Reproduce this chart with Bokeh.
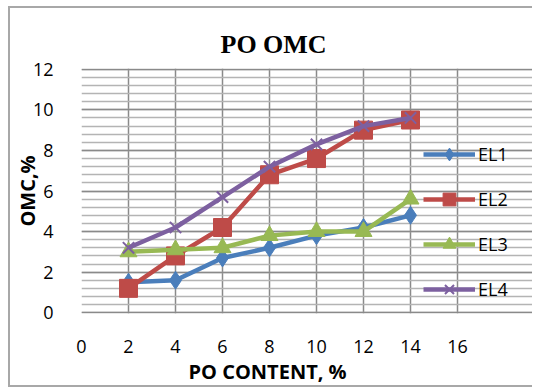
from bokeh.plotting import figure
from bokeh.models import Legend, LegendItem, FixedTicker, Title
from bokeh.embed import file_html
from bokeh.resources import INLINE

po_content = [2, 4, 6, 8, 10, 12, 14]
el1 = [1.5, 1.6, 2.7, 3.2, 3.8, 4.2, 4.8]
el2 = [1.2, 2.8, 4.2, 6.8, 7.6, 9.0, 9.5]
el3 = [3.0, 3.1, 3.2, 3.8, 4.0, 4.0, 5.6]
el4 = [3.2, 4.2, 5.7, 7.2, 8.3, 9.2, 9.6]

x_ticks = [0, 2, 4, 6, 8, 10, 12, 14, 16]
y_ticks = [0, 2, 4, 6, 8, 10, 12]

TICK_FONT = "Open Sans"
BORDER = "2px solid #a8a8a8"

# The frame runs to the right edge so the legend can sit over the grid;
# grid lines are bounded to the 0..16 x 0..12 chart area.
X_END = 16 * 453 / 376

p = figure(width=524, height=381, output_backend="svg", toolbar_location=None,
           x_range=(0, X_END), y_range=(-0.04, 12.04),
           min_border_left=71, min_border_right=0, min_border_top=60, min_border_bottom=76,
           margin=(6, 0, 0, 8),
           styles={"border-left": BORDER, "border-top": BORDER, "border-bottom": BORDER})

p.add_layout(Title(text="PO OMC", align="left", offset=139, standoff=19,
                   text_font="Liberation Serif", text_font_size="26px",
                   text_font_style="bold", text_color="black"), "above")
p.add_layout(Title(text="PO CONTENT, %", align="left", offset=107, standoff=0,
                   text_font=TICK_FONT, text_font_size="20px",
                   text_font_style="bold", text_color="black"), "below")

p.outline_line_color = None

for ax in (p.xaxis[0], p.yaxis[0]):
    ax.axis_line_color = None
    ax.major_tick_line_color = None
    ax.minor_tick_line_color = None
    ax.major_label_text_font = TICK_FONT
    ax.major_label_text_font_size = "18px"
    ax.major_label_text_color = "black"
    ax.axis_label_text_font = TICK_FONT
    ax.axis_label_text_font_style = "bold"
    ax.axis_label_text_font_size = "20px"
    ax.axis_label_text_color = "black"

p.xaxis.ticker = FixedTicker(ticks=x_ticks)
p.yaxis.ticker = FixedTicker(ticks=y_ticks, minor_ticks=[i * 0.4 for i in range(31)])
p.xaxis.major_label_standoff = 20
p.yaxis.major_label_standoff = 22
p.yaxis.axis_label = "OMC,%"
p.yaxis.axis_label_standoff = -11

p.xgrid.grid_line_color = "#8a8a8a"
p.xgrid.grid_line_width = 1.5
p.xgrid.bounds = (0, 12)
p.ygrid.grid_line_color = "#8a8a8a"
p.ygrid.grid_line_width = 1.5
p.ygrid.minor_grid_line_color = "#b4b4b4"
p.ygrid.minor_grid_line_width = 1.5
p.ygrid.bounds = (0, 16)

series = [
    ("EL1", el1, "#4a7ebb", "diamond", 18),
    ("EL2", el2, "#be4b48", "square", 18),
    ("EL3", el3, "#98b954", "triangle", 17),
    ("EL4", el4, "#7d60a0", "x", 16),
]

items = []
for name, vals, color, marker, size in series:
    ln = p.line(po_content, vals, line_color=color, line_width=4.5, line_join="round")
    kw = dict(line_width=2) if marker == "x" else dict(fill_color=color)
    sc = p.scatter(po_content, vals, marker=marker, size=size, line_color=color, **kw)
    items.append(LegendItem(label=name, renderers=[ln, sc]))

legend = Legend(items=items, location=(342, 8), orientation="vertical",
                glyph_width=52, glyph_height=32, spacing=13, padding=0, margin=0,
                label_text_font=TICK_FONT, label_text_font_size="18px",
                label_text_color="black",
                label_standoff=3, background_fill_alpha=0, border_line_color=None)
p.add_layout(legend, "center")

open("out.html", "w").write(file_html(p, INLINE))
